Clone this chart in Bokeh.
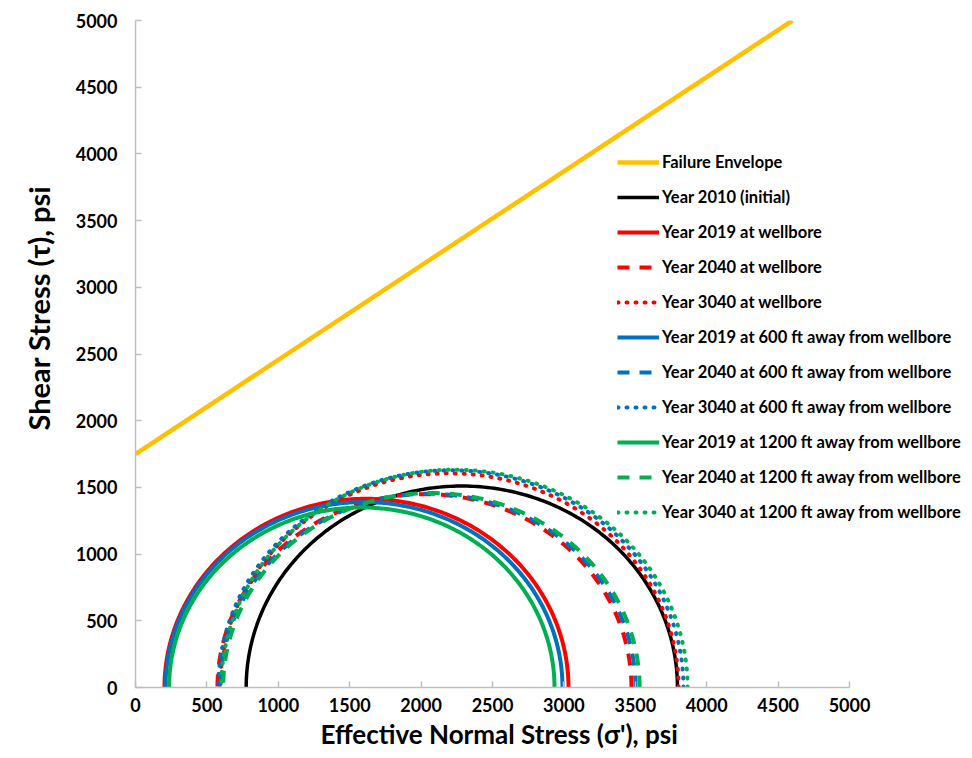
import numpy as np
from bokeh.plotting import figure
from bokeh.models import Range1d, Legend, LegendItem, FixedTicker, Title
from bokeh.embed import file_html
from bokeh.resources import INLINE

# Failure envelope (two end points of the straight line)
env_x = [0, 4600]
env_y = [1750, 5000]

# Mohr circles: left (sigma3') and right (sigma1') intersections, psi
labels = [
    "Year 2010 (initial)",
    "Year 2019 at wellbore",
    "Year 2040 at wellbore",
    "Year 3040 at wellbore",
    "Year 2019 at 600 ft away from wellbore",
    "Year 2040 at 600 ft away from wellbore",
    "Year 3040 at 600 ft away from wellbore",
    "Year 2019 at 1200 ft away from wellbore",
    "Year 2040 at 1200 ft away from wellbore",
    "Year 3040 at 1200 ft away from wellbore",
]
sigma3 = [775, 203, 574, 592, 210, 595, 580, 235, 614, 600]
sigma1 = [3795, 3032, 3473, 3803, 2990, 3501, 3837, 2934, 3530, 3866]

colors = ["#000000", "#FF0000", "#FF0000", "#FF0000", "#0070C0", "#0070C0", "#0070C0",
          "#00B050", "#00B050", "#00B050"]
dashes = ["solid", "solid", "12 10", "1 8", "solid", "12 10", "1 8", "solid", "12 10", "1 8"]
ticks = [0, 500, 1000, 1500, 2000, 2500, 3000, 3500, 4000, 4500, 5000]
x_title = "Effective Normal Stress (σ'), psi"
y_title = "Shear Stress (τ), psi"

# frame extends right of the 5000 axis end so the legend text is not clipped
p = figure(width=966, height=750, output_backend="svg", toolbar_location=None,
           x_range=Range1d(0, 5805), y_range=Range1d(0, 5000),
           min_border_left=135, min_border_right=2, min_border_top=20, min_border_bottom=63)
p.outline_line_color = None
p.xgrid.grid_line_color = None
p.ygrid.grid_line_color = None

for ax in (p.xaxis[0], p.yaxis[0]):
    ax.ticker = FixedTicker(ticks=ticks)
    ax.bounds = (0, 5000)
    ax.axis_line_color = "#BFBFBF"
    ax.axis_line_width = 1.5
    ax.major_tick_line_color = "#BFBFBF"
    ax.major_tick_line_width = 1.5
    ax.major_tick_in = 6
    ax.major_tick_out = 0
    ax.minor_tick_line_color = None
    ax.major_label_text_font = "Lato"
    ax.major_label_text_font_style = "bold"
    ax.major_label_text_font_size = "18px"
    ax.major_label_text_color = "#000000"

p.xaxis.major_label_standoff = 10
p.yaxis.major_label_standoff = 18

xt = Title(text=x_title, align="left", offset=185, standoff=2,
           text_font="Lato", text_font_style="bold", text_font_size="26px", text_color="#000000")
p.add_layout(xt, "below")
yt = Title(text=y_title, align="left", offset=257, standoff=34,
           text_font="Lato", text_font_style="bold", text_font_size="29px", text_color="#000000")
p.add_layout(yt, "left")

items = []
r = p.line(env_x, env_y, line_color="#FFC000", line_width=4.5)
items.append(LegendItem(label="Failure Envelope", renderers=[r]))

theta = np.linspace(0, np.pi, 200)
for lab, s3, s1, c, d in zip(labels, sigma3, sigma1, colors, dashes):
    cen = (s3 + s1) / 2.0
    rad = (s1 - s3) / 2.0
    xs = cen + rad * np.cos(theta)
    ys = rad * np.sin(theta)
    lw = 3.5 if c == "#000000" else 4
    r = p.line(xs, ys, line_color=c, line_width=lw, line_dash=d,
               line_cap="round" if d == "1 8" else "butt")
    items.append(LegendItem(label=lab, renderers=[r]))

legend = Legend(items=items, location=(482, 165))
legend.background_fill_alpha = 0
legend.border_line_color = None
legend.label_text_font = "Lato"
legend.label_text_font_style = "bold"
legend.label_text_font_size = "16.5px"
legend.label_text_color = "#000000"
legend.glyph_width = 42
legend.glyph_height = 20
legend.label_height = 20
legend.spacing = 15
legend.padding = 4
legend.margin = 0
legend.label_standoff = 3
p.add_layout(legend, "center")

open("out.html", "w").write(file_html(p, INLINE))
